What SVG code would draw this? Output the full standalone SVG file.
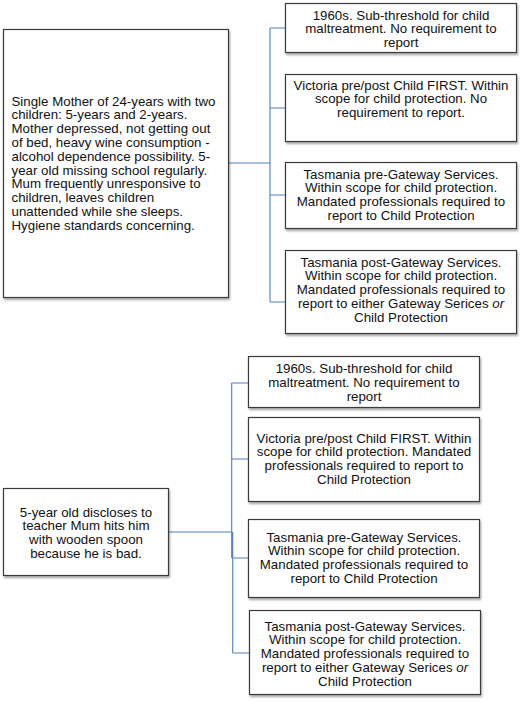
<svg xmlns="http://www.w3.org/2000/svg" width="522" height="702" viewBox="0 0 522 702">
<style>
.box{fill:#fff;stroke:#3a3a3a;stroke-width:1.2;filter:url(#sh)}
.t{font-family:"Liberation Sans",Arial,sans-serif;font-size:13.3px;fill:#111}
.c{text-anchor:middle}
.ln{fill:none;stroke:#4f7fbf;stroke-width:1.1}
</style>
<defs>
<filter id="sh" x="-5%" y="-5%" width="112%" height="115%">
<feDropShadow dx="1" dy="2" stdDeviation="1.2" flood-color="#000" flood-opacity="0.35"/>
</filter>
</defs>
<rect width="522" height="702" fill="#fff"/>
<g id="connectors">
<path class="ln" d="M229,163H270M270,28V302M270,28H285M270,108H285M270,195H285M270,302H285"/>
<path class="ln" d="M169,532H232M231.7,383V558M232.7,532V653M231.7,383H248M231.7,459H248M232.7,558H248M232.7,653H249"/>
</g>
<g id="n1">
<rect class="box" x="3.5" y="29.5" width="225" height="268"/>
<text class="t">
<tspan x="11.5" y="105.5">Single Mother of 24-years with two</tspan>
<tspan x="11.5" y="119.3">children: 5-years and 2-years.</tspan>
<tspan x="11.5" y="133.1">Mother depressed, not getting out</tspan>
<tspan x="11.5" y="146.9">of bed, heavy wine consumption -</tspan>
<tspan x="11.5" y="160.7">alcohol dependence possibility. 5-</tspan>
<tspan x="11.5" y="174.5">year old missing school regularly.</tspan>
<tspan x="11.5" y="188.3">Mum frequently unresponsive to</tspan>
<tspan x="11.5" y="202.1">children, leaves children</tspan>
<tspan x="11.5" y="215.9">unattended while she sleeps.</tspan>
<tspan x="11.5" y="229.7">Hygiene standards concerning.</tspan>
</text>
</g>
<g id="n2">
<rect class="box" x="285.5" y="3.5" width="231" height="49"/>
<text class="t c"><tspan x="401" y="19.5">1960s. Sub-threshold for child</tspan><tspan x="401" y="33.3">maltreatment. No requirement to</tspan><tspan x="401" y="47.1">report</tspan></text>
</g>
<g id="n3">
<rect class="box" x="285.5" y="74.5" width="231" height="67"/>
<text class="t c"><tspan x="401" y="89.5">Victoria pre/post Child FIRST. Within</tspan><tspan x="401" y="103.3">scope for child protection. No</tspan><tspan x="401" y="117.1">requirement to report.</tspan></text>
</g>
<g id="n4">
<rect class="box" x="285.5" y="162.5" width="231" height="66"/>
<text class="t c"><tspan x="401" y="178.5">Tasmania pre-Gateway Services.</tspan><tspan x="401" y="192.3">Within scope for child protection.</tspan><tspan x="401" y="206.1">Mandated professionals required to</tspan><tspan x="401" y="219.9">report to Child Protection</tspan></text>
</g>
<g id="n5">
<rect class="box" x="285.5" y="250.5" width="231" height="83"/>
<text class="t c"><tspan x="401" y="266.5">Tasmania post-Gateway Services.</tspan><tspan x="401" y="280.3">Within scope for child protection.</tspan><tspan x="401" y="294.1">Mandated professionals required to</tspan><tspan x="401" y="307.9">report to either Gateway Serices <tspan font-style="italic">or</tspan></tspan><tspan x="401" y="321.7">Child Protection</tspan></text>
</g>
<g id="n6">
<rect class="box" x="3.5" y="488.5" width="165" height="87"/>
<text class="t c"><tspan x="86" y="516.5">5-year old discloses to</tspan><tspan x="86" y="530.3">teacher Mum hits him</tspan><tspan x="86" y="544.1">with wooden spoon</tspan><tspan x="86" y="557.9">because he is bad.</tspan></text>
</g>
<g id="n7">
<rect class="box" x="248.5" y="356.5" width="231" height="51"/>
<text class="t c"><tspan x="364" y="373">1960s. Sub-threshold for child</tspan><tspan x="364" y="386.8">maltreatment. No requirement to</tspan><tspan x="364" y="400.6">report</tspan></text>
</g>
<g id="n8">
<rect class="box" x="248.5" y="417.5" width="231" height="84"/>
<text class="t c"><tspan x="364" y="442.5">Victoria pre/post Child FIRST. Within</tspan><tspan x="364" y="456.3">scope for child protection. Mandated</tspan><tspan x="364" y="470.1">professionals required to report to</tspan><tspan x="364" y="483.9">Child Protection</tspan></text>
</g>
<g id="n9">
<rect class="box" x="248.5" y="519.5" width="231" height="78"/>
<text class="t c"><tspan x="364" y="541.5">Tasmania pre-Gateway Services.</tspan><tspan x="364" y="555.3">Within scope for child protection.</tspan><tspan x="364" y="569.1">Mandated professionals required to</tspan><tspan x="364" y="582.9">report to Child Protection</tspan></text>
</g>
<g id="n10">
<rect class="box" x="249.5" y="610.5" width="231" height="84"/>
<text class="t c"><tspan x="365" y="630.5">Tasmania post-Gateway Services.</tspan><tspan x="365" y="644.3">Within scope for child protection.</tspan><tspan x="365" y="658.1">Mandated professionals required to</tspan><tspan x="365" y="671.9">report to either Gateway Serices <tspan font-style="italic">or</tspan></tspan><tspan x="365" y="685.7">Child Protection</tspan></text>
</g>
</svg>
